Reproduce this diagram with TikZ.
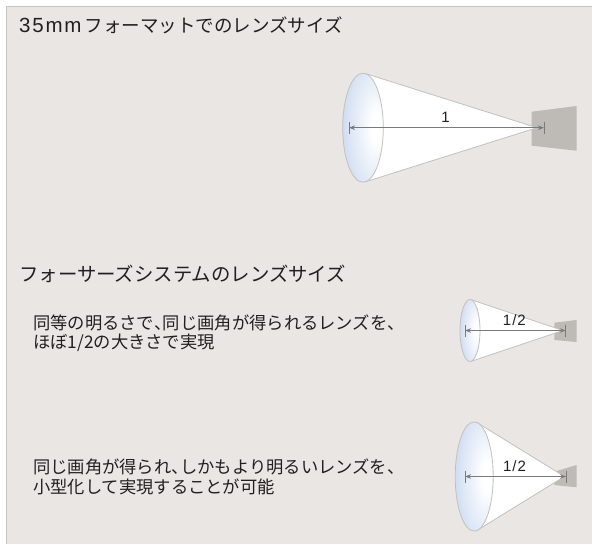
\documentclass[tikz,border=0pt]{standalone}
\usepackage{fontspec}
\usetikzlibrary{arrows.meta}
\newfontfamily\jpfont{Noto Sans CJK JP}
\newfontfamily\latfont{Liberation Sans}
\definecolor{panelfill}{HTML}{E9E6E3}
\definecolor{panelrule}{HTML}{C6C3C0}
\definecolor{sensorgray}{HTML}{BEBAB6}
\definecolor{conerule}{HTML}{C4C0BC}
\definecolor{lensblue}{HTML}{A5BFE6}
\definecolor{dimgray}{HTML}{7A7A7A}
\definecolor{inkcol}{HTML}{231F20}
\pgfdeclareradialshading{lensshade}{\pgfpoint{18bp}{0bp}}{%
  color(0bp)=(white); color(6bp)=(white); color(62bp)=(lensblue); color(80bp)=(lensblue)}
% half-width ideographic comma inside a line
\newcommand{\hcomma}{\makebox[0.5em][l]{、}}
\tikzset{
  heading/.style={anchor=base west, inner sep=0pt, text=inkcol, font=\jpfont\fontsize{19.4}{23}\selectfont},
  bodytext/.style={anchor=base west, inner sep=0pt, text=inkcol, font=\jpfont\fontsize{17.3}{20}\selectfont},
  ratio/.style={anchor=base, inner sep=0pt, text=inkcol, font=\latfont\fontsize{15}{18}\selectfont},
  sensor/.style={fill=sensorgray, draw=none},
  lens/.style={shading=lensshade, draw=conerule, line width=0.8pt},
  dimline/.style={draw=dimgray, line width=1pt, {Stealth[length=6pt,width=4.5pt]}-{Stealth[length=6pt,width=4.5pt]}},
  dimtick/.style={draw=dimgray, line width=1pt},
}
% one lens with its cone of light and the distance marker
% #1 prefix, #2 lens centre x, #3 centre y, #4 rx, #5 ry, #6 apex x,
% #7 left tick x, #8 right tick x, #9 label
\newcommand{\lensunit}[9]{%
  \coordinate (#1-apex) at (#6,#3);
  \coordinate (#1-top) at (#2+0.12*#4,#3-0.993*#5);
  \coordinate (#1-bot) at (#2+0.12*#4,#3+0.993*#5);
  \path[fill=white] (#1-top) -- (#1-apex) -- (#1-bot) -- cycle;
  \draw[conerule, line width=0.8pt] (#1-top) -- (#1-apex) -- (#1-bot);
  \path[lens] (#2,#3) ellipse [x radius=#4, y radius=#5];
  \coordinate (#1-l) at (#7,#3);
  \coordinate (#1-r) at (#8,#3);
  \draw[dimline] (#1-l) -- (#1-r);
  \draw[dimtick] (#7,#3-6) -- (#7,#3+6);
  \draw[dimtick] (#8,#3-6) -- (#8,#3+6);
  \node[ratio] (#1-label) at ({(#7+#8)/2-1},#3-5.5) {#9};
}
\begin{document}
\begin{tikzpicture}[x=1pt,y=-1pt]
  \useasboundingbox (0,0) rectangle (592,544);
  % panel
  \fill[panelfill] (6,6) rectangle (592,544);
  \draw[panelrule, line width=1.2pt] (6.6,544) -- (6.6,6.6) -- (592,6.6);

  % headings
  \node[heading, font=\jpfont\fontsize{18.5}{23}\selectfont] (h1) at (19,32)
    {{\latfont\fontsize{20.5}{23}\selectfont 3\kern1.8pt5\kern1.8pt m\kern1.8pt m}\kern3pt フォーマットでのレンズサイズ};
  \node[heading] (h2) at (19,281) {フォーサーズシステムのレンズサイズ};

  % descriptions
  \node[bodytext] (t1a) at (33,329) {同等の明るさで\hcomma 同じ画角が得られるレンズを、};
  \node[bodytext] (t1b) at (33,348) {ほぼ1/2の大きさで実現};
  \node[bodytext] (t2a) at (33,473) {同じ画角が得られ\hcomma しかもより明るいレンズを、};
  \node[bodytext] (t2b) at (33,493) {小型化して実現することが可能};

  % sensors
  \path[sensor] (531.7,111.7) -- (576.7,106) -- (576.7,150.7) -- (531.7,145.7) -- cycle;
  \path[sensor] (554.3,322.7) -- (576.7,320) -- (576.7,342) -- (554.3,340) -- cycle;
  \path[sensor] (554.3,471.7) -- (576.7,465) -- (576.7,487.3) -- (554.3,485) -- cycle;

  % lenses
  \lensunit{big}{363}{127.7}{20.3}{54.5}{537}{349}{544}{1}
  \lensunit{half}{470}{330.5}{10}{31}{563}{465}{565.7}{1\kern1pt/\kern1pt2}
  \lensunit{bright}{474.2}{476.5}{19}{54.6}{564.5}{465}{566}{1\kern1pt/\kern1pt2}
\end{tikzpicture}
\end{document}
